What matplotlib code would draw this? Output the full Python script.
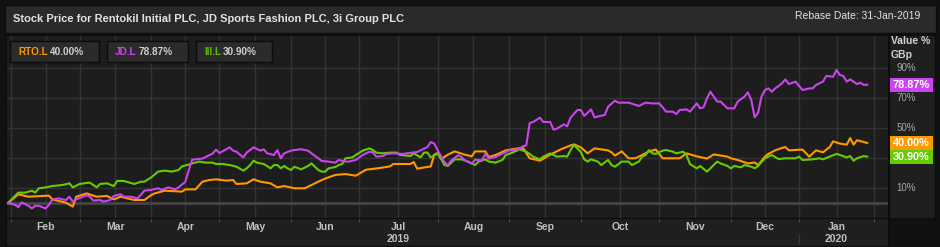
import matplotlib
matplotlib.use("Agg")
import matplotlib.pyplot as plt
from matplotlib.patches import Rectangle
import numpy as np
import pandas as pd

plt.rcParams['font.family'] = ['Liberation Sans', 'DejaVu Sans']

# trading days after the rebase date 31-Jan-2019 (London calendar)
uk_holidays = ['2019-04-19', '2019-04-22', '2019-05-06', '2019-05-27',
               '2019-08-26', '2019-12-25', '2019-12-26', '2020-01-01']
days = pd.bdate_range('2019-01-31', '2020-02-28')
days = days[~days.isin(pd.to_datetime(uk_holidays))]

# Rentokil Initial (RTO.L), rebased %
rto_day = [0, 3, 6, 12, 13, 17, 19, 20, 23, 26, 29, 31, 33, 37, 40, 42, 43, 46, 51, 52,
           55, 57, 59, 61, 64, 66, 67, 70, 72, 74, 77, 79, 81, 84, 87, 89, 91, 92, 94, 96,
           99, 102, 105, 109, 112, 113, 118, 119, 120, 124, 125, 126, 127, 129, 131, 134, 136, 137, 140, 141,
           143, 146, 149, 151, 153, 156, 159, 162, 165, 166, 168, 170, 172, 176, 177, 178, 180, 182, 184, 186,
           188, 190, 192, 197, 199, 202, 205, 207, 211, 212, 214, 217, 219, 220, 222, 223, 225, 227, 228, 229,
           233, 234, 235, 237, 239, 241, 242, 244, 246, 247, 248, 249, 250, 252]
rto_val = [0, 5.8, 4.2, 4.9, 2.4, 0.2, -2.4, 4.2, 6.4, 4.2, 4.7, 2.4, 4.2, 2.0, 2.0, 5.3, 6.4, 8.2, 7.6, 9.1,
           9.1, 14.2, 15.3, 15.8, 14.9, 15.3, 12.7, 13.1, 15.8, 14.2, 13.1, 10.4, 11.3, 9.8, 9.8, 12.0, 14.2, 15.3, 17.1, 18.7,
           19.3, 18.2, 22.2, 23.3, 24.4, 26.0, 26.0, 27.3, 22.9, 24.4, 32.2, 33.3, 29.3, 32.2, 34.4, 32.2, 31.1, 34.4, 34.4, 30.7,
           32.0, 35.1, 36.2, 36.9, 29.8, 28.2, 32.2, 35.6, 38.4, 39.1, 37.1, 33.1, 36.4, 35.1, 33.8, 31.6, 34.4, 29.8, 29.8, 32.0,
           34.4, 35.6, 29.8, 29.8, 33.1, 31.1, 29.6, 32.4, 30.9, 29.8, 28.7, 26.4, 27.0, 25.3, 30.9, 32.7, 35.1, 36.7, 37.3, 35.1,
           35.6, 33.3, 30.9, 35.1, 33.8, 37.3, 41.1, 39.6, 38.9, 43.3, 38.9, 41.8, 41.3, 40.0]

# JD Sports Fashion (JD.L), rebased %
jd_day = [0, 2, 3, 4, 6, 7, 8, 9, 11, 12, 13, 15, 16, 17, 18, 19, 20, 22, 23, 24,
          25, 27, 28, 30, 31, 33, 34, 36, 38, 40, 42, 44, 45, 47, 49, 50, 52, 53, 54, 57,
          59, 60, 61, 62, 65, 66, 67, 69, 70, 72, 74, 75, 76, 78, 79, 80, 81, 83, 84, 86,
          88, 89, 91, 92, 94, 96, 97, 99, 100, 102, 104, 106, 107, 108, 110, 111, 113, 116, 117, 120,
          123, 124, 125, 126, 128, 129, 130, 132, 133, 134, 136, 137, 139, 140, 141, 143, 145, 147, 148, 150,
          151, 152, 153, 154, 156, 157, 159, 160, 161, 163, 164, 165, 167, 168, 169, 171, 172, 175, 176, 178,
          179, 182, 185, 187, 189, 191, 192, 193, 195, 196, 197, 199, 200, 202, 203, 204, 205, 206, 208, 209,
          211, 213, 214, 216, 217, 218, 219, 220, 221, 222, 223, 224, 225, 226, 227, 228, 229, 231, 233, 235,
          236, 237, 239, 240, 242, 243, 244, 245, 246, 247, 249, 250, 251, 252]
jd_val = [0, -1.1, -2.7, 0.4, -1.8, -3.6, -1.8, -1.8, -3.6, -1.3, 2.4, 3.1, 2.4, 2.0, 4.2, 0.9, 2.4, 4.2, 5.3, 4.2,
          1.6, 2.0, 0.9, 2.0, 4.7, 5.8, 4.2, 4.2, 3.1, 8.2, 8.7, 9.8, 8.7, 10.4, 9.1, 10.4, 14.2, 21.8, 28.9, 29.6,
          31.8, 32.9, 35.6, 33.3, 37.1, 34.9, 34.2, 30.4, 33.6, 37.1, 34.9, 35.8, 33.1, 32.0, 35.3, 29.8, 33.1, 34.9, 35.3, 35.8,
          34.9, 33.1, 29.8, 28.0, 27.6, 26.9, 28.7, 27.6, 27.6, 28.7, 32.0, 34.2, 33.8, 30.9, 31.3, 32.7, 33.1, 32.7, 33.1, 34.0,
          37.3, 40.7, 39.6, 35.1, 27.3, 25.1, 28.4, 31.8, 30.7, 28.4, 26.2, 28.9, 28.4, 32.9, 29.6, 30.7, 32.9, 35.1, 35.1, 36.2,
          37.8, 38.4, 53.3, 54.0, 56.9, 54.0, 54.0, 48.9, 49.6, 52.4, 51.1, 56.9, 62.0, 62.0, 58.0, 62.4, 57.1, 58.7, 64.2, 68.2,
          66.9, 66.9, 64.7, 66.9, 66.4, 66.4, 63.8, 60.9, 60.9, 59.3, 62.0, 62.4, 60.9, 66.4, 63.1, 63.8, 69.8, 74.2, 67.6, 67.6,
          63.1, 63.1, 67.6, 70.9, 73.8, 68.7, 57.1, 60.2, 70.9, 75.3, 76.4, 74.2, 76.4, 78.0, 79.8, 82.4, 79.3, 80.9, 75.3, 76.4,
          76.4, 78.7, 80.9, 84.7, 84.2, 88.7, 85.3, 84.7, 80.9, 82.4, 79.3, 80.2, 78.7, 78.87]

# 3i Group (III.L), rebased %
iii_day = [0, 3, 5, 7, 8, 9, 11, 13, 16, 18, 19, 21, 24, 26, 27, 29, 31, 32, 34, 37,
           39, 40, 42, 44, 46, 48, 50, 51, 53, 54, 56, 58, 60, 61, 63, 65, 67, 69, 70, 71,
           72, 73, 75, 77, 78, 79, 80, 81, 82, 83, 84, 86, 88, 89, 91, 92, 93, 94, 96, 97,
           98, 99, 101, 102, 104, 106, 107, 108, 110, 112, 114, 115, 118, 119, 121, 122, 123, 124, 126, 127,
           128, 129, 131, 133, 135, 137, 138, 140, 141, 143, 145, 146, 148, 150, 152, 153, 154, 156, 157, 159,
           161, 163, 164, 165, 166, 167, 168, 169, 170, 171, 173, 174, 176, 177, 178, 180, 182, 183, 185, 186,
           187, 188, 189, 190, 192, 193, 195, 196, 198, 199, 200, 202, 203, 205, 206, 208, 209, 211, 212, 213,
           215, 216, 218, 219, 220, 222, 224, 226, 228, 231, 232, 233, 236, 238, 239, 241, 243, 244, 246, 247,
           248, 249, 251, 252]
iii_val = [0, 6.9, 6.9, 8.2, 6.9, 9.8, 10.4, 11.3, 12.0, 13.1, 10.4, 12.7, 13.6, 10.4, 12.7, 13.1, 11.3, 14.7, 14.7, 12.7,
           14.2, 14.2, 17.1, 20.9, 21.6, 20.9, 22.0, 24.4, 25.6, 26.4, 27.6, 26.9, 26.9, 26.0, 26.0, 25.3, 24.2, 21.6, 23.1, 25.3,
           28.2, 26.9, 26.0, 23.1, 25.3, 25.3, 23.1, 24.7, 23.1, 22.0, 24.2, 22.4, 24.7, 26.4, 22.0, 20.9, 20.9, 23.1, 24.0, 25.3,
           26.0, 29.8, 30.4, 32.0, 34.9, 36.4, 35.3, 33.6, 33.1, 33.6, 33.6, 32.0, 31.3, 33.1, 30.4, 33.6, 33.6, 30.4, 33.1, 29.5,
           25.3, 24.7, 29.1, 29.1, 27.6, 25.3, 27.6, 29.1, 27.6, 26.9, 28.7, 32.0, 33.6, 35.8, 34.2, 32.7, 30.9, 29.1, 30.9, 33.1,
           30.9, 31.3, 30.9, 35.3, 38.7, 36.4, 34.0, 29.1, 27.6, 29.1, 27.6, 25.3, 28.7, 25.3, 24.2, 27.6, 27.6, 25.3, 27.6, 30.9,
           32.0, 35.3, 33.1, 32.7, 34.9, 35.3, 34.2, 33.1, 34.2, 32.0, 26.0, 23.1, 24.7, 20.9, 23.1, 27.6, 26.4, 24.7, 23.1, 24.7,
           23.8, 25.3, 24.2, 23.1, 24.7, 29.8, 32.0, 29.3, 29.8, 29.8, 30.9, 28.7, 29.1, 29.8, 29.1, 30.9, 32.7, 32.0, 30.4, 31.3,
           28.2, 29.8, 31.3, 30.9]

tickers = ['RTO.L', 'JD.L', 'III.L']
last_vals = ['40.00%', '78.87%', '30.90%']
y_ticks = [10, 50, 70, 90]

c_rto = '#ff9900'
c_jd = '#cc44ee'
c_iii = '#66cc00'

W, H = 940, 247
fig = plt.figure(figsize=(W / 100, H / 100), dpi=100, facecolor='#111111')

# main plot
ax = fig.add_axes([6 / W, 1 - 218 / H, 882 / W, 183 / H])
ax.set_facecolor('#1d1d1d')
ax.set_xlim(-0.6, 258.1)
ax.set_ylim(-10, 112)

# month boundaries (first trading day of each month) and mid-month labels
month_start = []
for p in pd.period_range('2019-02', '2020-02', freq='M'):
    mask = (days.year == p.year) & (days.month == p.month)
    month_start.append(int(np.argmax(mask)))
month_mid = [(a + b) / 2 for a, b in zip(month_start[:-1], month_start[1:])]
month_lab = [d.strftime('%b') for d in pd.period_range('2019-02', '2020-01', freq='M')]

for v in month_start + month_mid:
    ax.axvline(v, color='#333333', lw=1, zorder=1)
for v in [10, 30, 50, 70, 90]:
    ax.axhline(v, color='#333333', lw=1, zorder=1)
ax.axhline(0, color='#454545', lw=2, zorder=1)

ax.plot(rto_day, rto_val, color=c_rto, lw=1.5, zorder=3)
ax.plot(iii_day, iii_val, color=c_iii, lw=1.5, zorder=4)
ax.plot(jd_day, jd_val, color=c_jd, lw=1.5, zorder=5)

ax.set_xticks([])
ax.set_yticks([])
for s in ax.spines.values():
    s.set_color('#0c0c0c')

# bottom date band
axb = fig.add_axes([6 / W, 1 - 246 / H, 882 / W, 28 / H])
axb.set_facecolor('#1f1f1f')
axb.set_xlim(ax.get_xlim())
axb.set_ylim(0, 1)
axb.set_yticks([])
axb.set_xticks(month_start)
axb.xaxis.set_ticks_position('top')
axb.tick_params(axis='x', direction='in', length=3, color='#4a4a4a',
                labeltop=False, labelbottom=False)
for s in axb.spines.values():
    s.set_color('#0c0c0c')
for m, lab in zip(month_mid, month_lab):
    axb.text(m, 0.68, lab, ha='center', va='center', fontsize=7.5,
             fontweight='bold', color='#c0c0c0')
axb.text(month_mid[5], 0.24, '2019', ha='center', va='center', fontsize=7.5,
         fontweight='bold', color='#c0c0c0')
axb.text(month_mid[11], 0.24, '2020', ha='center', va='center', fontsize=7.5,
         fontweight='bold', color='#c0c0c0')
axb.plot([month_start[11], month_start[11]], [0.12, 0.4], color='#3a3a3a', lw=1)

# right value axis
axr = fig.add_axes([889 / W, 1 - 218 / H, 46 / W, 183 / H])
axr.set_facecolor('#1f1f1f')
axr.set_xlim(0, 1)
axr.set_ylim(ax.get_ylim())
axr.set_xticks([])
axr.set_yticks([])
for s in axr.spines.values():
    s.set_color('#0c0c0c')
axr.text(0.04, 0.967, 'Value %', transform=axr.transAxes, ha='left', va='center',
         fontsize=7.5, fontweight='bold', color='#d0d0d0')
axr.text(0.04, 0.888, 'GBp', transform=axr.transAxes, ha='left', va='center',
         fontsize=7.5, fontweight='bold', color='#d0d0d0')
for v in y_ticks:
    axr.text(0.16, v, '%d%%' % v, ha='left', va='center', fontsize=7, color='#a8a8a8')

tag_h = 9.2
for val, col, txt in [(jd_val[-1], c_jd, last_vals[1]),
                      (rto_val[-1], c_rto, last_vals[0]),
                      (iii_val[-1], c_iii, last_vals[2])]:
    axr.add_patch(Rectangle((0.02, val - tag_h / 2), 0.94, tag_h, facecolor=col,
                            edgecolor='none', zorder=3))
    axr.text(0.49, val, txt, ha='center', va='center', fontsize=7.8,
             fontweight='bold', color='white', zorder=4)

# header bar, legend chips (pixel coordinates)
ov = fig.add_axes([0, 0, 1, 1])
ov.set_xlim(0, W)
ov.set_ylim(H, 0)
ov.axis('off')
ov.patch.set_alpha(0)
ov.add_patch(Rectangle((5, 5), 931, 28, facecolor='#2a2a2a', edgecolor='#0c0c0c', lw=1))
ov.text(13, 18.5, 'Stock Price for Rentokil Initial PLC, JD Sports Fashion PLC, 3i Group PLC',
        ha='left', va='center', fontsize=8.0, fontweight='bold', color='#e2e2e2')
ov.text(920, 16, 'Rebase Date: 31-Jan-2019', ha='right', va='center',
        fontsize=7.5, color='#e2e2e2')

chips = [(10, 99, 18, 50, c_rto), (107, 188, 115, 139, c_jd), (196, 272, 204, 223, '#5cb800')]
for (x0, x1, tx, vx, col), tk, lv in zip(chips, tickers, last_vals):
    ov.add_patch(Rectangle((x0, 41.5), x1 - x0, 20.5, facecolor='#2b2b2b',
                           edgecolor='#0c0c0c', lw=1))
    ov.text(tx, 52, tk, ha='left', va='center', fontsize=7.2, fontweight='bold', color=col)
    ov.text(vx, 52, lv, ha='left', va='center', fontsize=7.2, fontweight='bold', color='#cfcfcf')

fig.savefig('out.png', dpi=100, facecolor=fig.get_facecolor())
